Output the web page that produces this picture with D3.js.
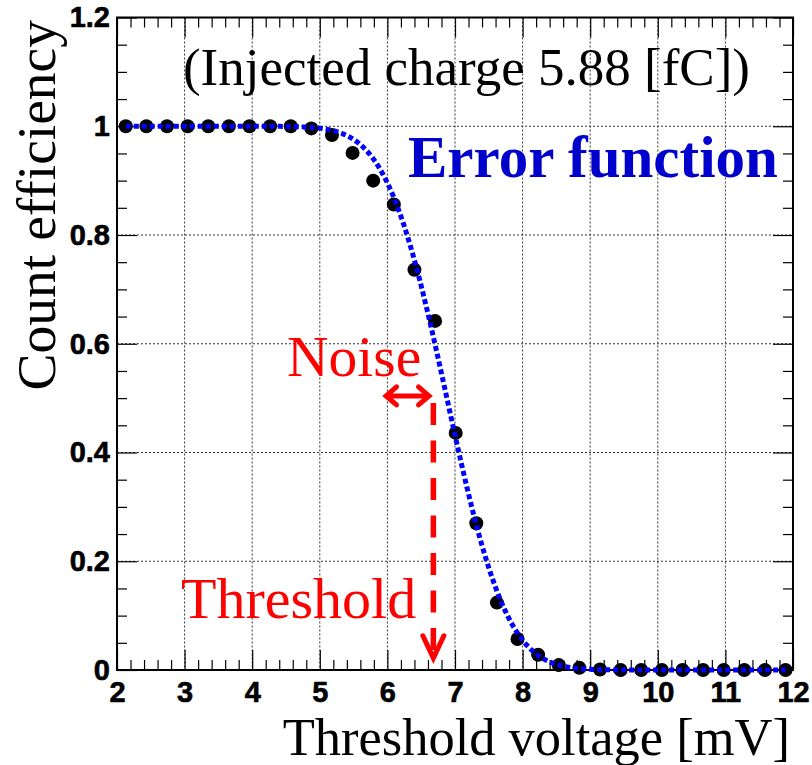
<!DOCTYPE html>
<html>
<head>
<meta charset="utf-8">
<script src="https://cdn.jsdelivr.net/npm/d3@7"></script>
<style>
  html, body { margin: 0; padding: 0; background: #fff; }
  svg { display: block; }
</style>
</head>
<body>
<svg id="chart" width="812" height="765"></svg>
<script>
// Measured count efficiency vs. discriminator threshold
const thresholdVoltage = [2.13, 2.435, 2.74, 3.045, 3.35, 3.655, 3.96, 4.265, 4.57, 4.875,
  5.18, 5.485, 5.79, 6.095, 6.40, 6.705, 7.01, 7.315, 7.62, 7.925,
  8.23, 8.535, 8.84, 9.145, 9.45, 9.755, 10.06, 10.365, 10.67, 10.975,
  11.28, 11.585, 11.89];
const countEfficiency = [1.0, 1.0, 1.0, 1.0, 1.0, 1.0, 1.0, 1.0, 1.0, 0.996,
  0.984, 0.951, 0.900, 0.856, 0.736, 0.642, 0.436, 0.270, 0.124, 0.057,
  0.028, 0.009, 0.004, 0.001, 0.0, 0.0, 0.0, 0.0, 0.0, 0.0,
  0.0, 0.0, 0.0];

// Error-function fit parameters (mean threshold and noise width, mV)
const fitMean = 6.88;
const fitSigma = 0.70;

// Axis ticks
const xTickValues = [2, 3, 4, 5, 6, 7, 8, 9, 10, 11, 12];
const xTickLabels = ["2", "3", "4", "5", "6", "7", "8", "9", "10", "11", "12"];
const yTickValues = [0, 0.2, 0.4, 0.6, 0.8, 1.0, 1.2];
const yTickLabels = ["0", "0.2", "0.4", "0.6", "0.8", "1", "1.2"];

const frame = { left: 117, right: 793, top: 17.5, bottom: 670 };

const svg = d3.select("#chart");
const x = d3.scaleLinear().domain([2, 12]).range([frame.left, frame.right]);
const y = d3.scaleLinear().domain([0, 1.2]).range([frame.bottom, frame.top]);

const serif = "'Liberation Serif', 'Times New Roman', serif";
const sans = "'Liberation Sans', Arial, Helvetica, sans-serif";

// Dotted grid at the major ticks
const grid = svg.append("g").attr("stroke", "#000").attr("stroke-width", 1)
  .attr("stroke-dasharray", "2,2").attr("opacity", 0.8);
grid.selectAll("line.gx").data(xTickValues.slice(1, -1)).join("line")
  .attr("x1", d => x(d)).attr("x2", d => x(d))
  .attr("y1", frame.top).attr("y2", frame.bottom);
grid.selectAll("line.gy").data(yTickValues.slice(1, -1)).join("line")
  .attr("x1", frame.left).attr("x2", frame.right)
  .attr("y1", d => y(d)).attr("y2", d => y(d));

// Minor tick positions
const xMinor = d3.range(2, 12.0001, 0.2).filter(v => Math.abs(v - Math.round(v)) > 1e-6);
const yMinor = d3.range(0, 1.2001, 0.05).filter(v => Math.abs(v * 5 - Math.round(v * 5)) > 1e-6);

function styleAxis(g) {
  g.select(".domain").remove();
  g.selectAll(".tick line").attr("stroke", "#000").attr("stroke-width", 1.2);
}
function styleLabels(g) {
  g.selectAll("text").attr("font-family", sans).attr("font-weight", "bold")
    .attr("font-size", 29).attr("fill", "#000")
    .attr("stroke", "#000").attr("stroke-width", 0.6);
}

// Bottom axis
svg.append("g").attr("transform", `translate(0,${frame.bottom})`)
  .call(d3.axisBottom(x).tickValues(xTickValues).tickSize(-20).tickPadding(11)
    .tickFormat((d, i) => xTickLabels[i]))
  .call(styleAxis).call(styleLabels);
svg.append("g").attr("transform", `translate(0,${frame.bottom})`)
  .call(d3.axisBottom(x).tickValues(xMinor).tickSize(-10).tickFormat(""))
  .call(styleAxis);

// Top axis (ticks only)
svg.append("g").attr("transform", `translate(0,${frame.top})`)
  .call(d3.axisTop(x).tickValues(xTickValues).tickSize(-20).tickFormat(""))
  .call(styleAxis);
svg.append("g").attr("transform", `translate(0,${frame.top})`)
  .call(d3.axisTop(x).tickValues(xMinor).tickSize(-10).tickFormat(""))
  .call(styleAxis);

// Left axis
svg.append("g").attr("transform", `translate(${frame.left},0)`)
  .call(d3.axisLeft(y).tickValues(yTickValues).tickSize(-20).tickPadding(7)
    .tickFormat((d, i) => yTickLabels[i]))
  .call(styleAxis).call(styleLabels);
svg.append("g").attr("transform", `translate(${frame.left},0)`)
  .call(d3.axisLeft(y).tickValues(yMinor).tickSize(-10).tickFormat(""))
  .call(styleAxis);

// Right axis (ticks only)
svg.append("g").attr("transform", `translate(${frame.right},0)`)
  .call(d3.axisRight(y).tickValues(yTickValues).tickSize(-20).tickFormat(""))
  .call(styleAxis);
svg.append("g").attr("transform", `translate(${frame.right},0)`)
  .call(d3.axisRight(y).tickValues(yMinor).tickSize(-10).tickFormat(""))
  .call(styleAxis);

// Frame
svg.append("rect")
  .attr("x", frame.left).attr("y", frame.top)
  .attr("width", frame.right - frame.left).attr("height", frame.bottom - frame.top)
  .attr("fill", "none").attr("stroke", "#000").attr("stroke-width", 2);

// Data points
const points = thresholdVoltage.map((v, i) => ({ v, e: countEfficiency[i] }));
svg.append("g").selectAll("circle").data(points).join("circle")
  .attr("cx", d => x(d.v)).attr("cy", d => y(d.e)).attr("r", 7)
  .attr("fill", "#000");

// Error-function fit curve
function erf(t) {
  const s = Math.sign(t); t = Math.abs(t);
  const k = 1 / (1 + 0.3275911 * t);
  const r = 1 - (((((1.061405429 * k - 1.453152027) * k) + 1.421413741) * k - 0.284496736) * k + 0.254829592) * k * Math.exp(-t * t);
  return s * r;
}
const fitEff = v => 0.5 * (1 - erf((v - fitMean) / (Math.SQRT2 * fitSigma)));
const curveX = d3.range(thresholdVoltage[0], thresholdVoltage[thresholdVoltage.length - 1] + 1e-9, 0.01);
svg.append("path")
  .datum(curveX)
  .attr("d", d3.line().x(d => x(d)).y(d => y(fitEff(d))))
  .attr("fill", "none").attr("stroke", "#0000ff").attr("stroke-width", 5)
  .attr("stroke-dasharray", "5,3");

// Annotations
const red = "#ff0000";
svg.append("text").attr("x", x(2.976)).attr("y", y(1.076))
  .attr("font-family", serif).attr("font-size", 53).attr("fill", "#000")
  .text("(Injected charge 5.88 [fC])");
svg.append("text").attr("x", x(6.305)).attr("y", y(0.907))
  .attr("font-family", serif).attr("font-weight", "bold").attr("font-size", 59)
  .attr("fill", "#0000cc").text("Error function");
svg.append("text").attr("x", x(4.515)).attr("y", y(0.541))
  .attr("font-family", serif).attr("font-size", 57.5).attr("fill", red).text("Noise");
svg.append("text").attr("x", x(2.947)).attr("y", y(0.0957))
  .attr("font-family", serif).attr("font-size", 58).attr("fill", red).text("Threshold");

// Threshold arrow (dashed shaft, open head)
const thrV = 6.68;
svg.append("line")
  .attr("x1", x(thrV)).attr("x2", x(thrV))
  .attr("y1", y(0.491)).attr("y2", y(0.03))
  .attr("stroke", red).attr("stroke-width", 5.5).attr("stroke-dasharray", "22,15.5");
svg.append("path")
  .attr("d", `M${x(thrV) - 10.5},${y(0.063)} L${x(thrV)},${y(0.022)} L${x(thrV) + 10.5},${y(0.063)}`)
  .attr("fill", "none").attr("stroke", red).attr("stroke-width", 5)
  .attr("stroke-linejoin", "miter").attr("stroke-linecap", "round");

// Noise double arrow
const noiseY = 0.504, noiseL = 5.98, noiseR = 6.615;
svg.append("line")
  .attr("x1", x(noiseL)).attr("x2", x(noiseR))
  .attr("y1", y(noiseY)).attr("y2", y(noiseY))
  .attr("stroke", red).attr("stroke-width", 5);
svg.append("path")
  .attr("d", `M${x(noiseL) + 10.5},${y(noiseY) - 9} L${x(noiseL)},${y(noiseY)} L${x(noiseL) + 10.5},${y(noiseY) + 9}` +
    `M${x(noiseR) - 10.5},${y(noiseY) - 9} L${x(noiseR)},${y(noiseY)} L${x(noiseR) - 10.5},${y(noiseY) + 9}`)
  .attr("fill", "none").attr("stroke", red).attr("stroke-width", 5)
  .attr("stroke-linejoin", "miter").attr("stroke-linecap", "round");

// Axis titles
svg.append("text").attr("x", 790).attr("y", 755).attr("text-anchor", "end")
  .attr("font-family", serif).attr("font-size", 52.5).attr("fill", "#000")
  .text("Threshold voltage [mV]");
svg.append("text").attr("transform", "translate(55,20) rotate(-90)")
  .attr("text-anchor", "end")
  .attr("font-family", serif).attr("font-size", 55.5).attr("fill", "#000")
  .text("Count efficiency");
</script>
</body>
</html>
